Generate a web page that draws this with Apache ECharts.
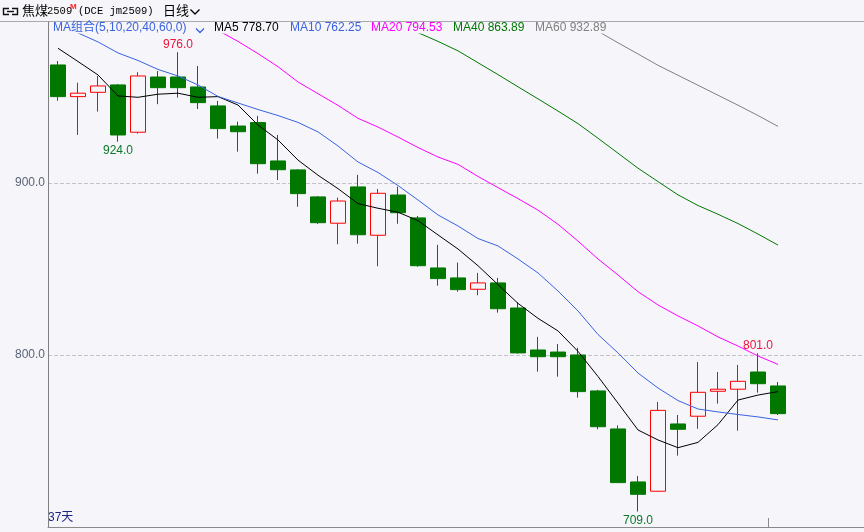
<!DOCTYPE html>
<html><head><meta charset="utf-8">
<script src="https://cdn.jsdelivr.net/npm/echarts@6/dist/echarts.min.js"></script>
<style>html,body{margin:0;padding:0;background:#f5f5fa}#c{width:864px;height:532px}</style>
</head><body><div id="c"></div>
<script>
// ---------- data ----------
const categories = ['1','2','3','4','5','6','7','8','9','10','11','12','13','14','15','16','17','18','19','20','21','22','23','24','25','26','27','28','29','30','31','32','33','34','35','36','37'];
const opens  = [968.6,950.2,952.7,957.0,929.5,961.6,961.6,955.8,944.8,933.1,935.1,912.8,907.6,891.9,876.6,897.7,869.6,893.0,879.7,850.6,844.8,838.2,841.9,827.3,802.9,801.7,800.0,779.1,757.0,726.2,720.8,759.9,764.4,778.9,780.1,790.1,782.0];
const closes = [950.2,952.2,956.4,927.9,962.2,955.4,955.4,946.7,931.6,929.8,911.2,907.7,893.8,876.9,889.5,869.9,894.0,882.7,851.9,844.4,838.0,841.9,826.9,801.2,799.0,799.0,778.7,758.3,725.8,719.0,767.8,756.8,778.3,780.1,784.7,783.3,765.9];
const lows   = [947.8,927.9,941.5,924.0,928.7,945.8,949.6,943.0,925.8,918.2,905.4,901.7,886.2,876.2,864.4,864.7,851.6,876.3,851.3,840.3,836.8,834.7,824.6,800.8,790.3,787.4,775.2,756.8,725.8,709.0,720.8,741.5,757.1,771.7,756.0,778.1,765.1];
const highs  = [970.9,958.3,962.2,957.5,964.4,965.1,976.0,968.0,947.7,935.6,939.0,927.9,908.0,892.4,891.5,904.7,896.5,897.8,880.8,864.0,853.7,847.7,844.8,830.6,810.5,806.4,804.2,779.7,759.1,729.7,772.7,765.1,795.9,790.1,794.2,801.0,784.3];
const ma5  = [978.3,970.6,962.8,950.6,949.8,951.6,952.2,949.8,950.2,945.3,933.7,925.0,913.3,904.5,896.7,888.0,885.3,883.0,878.1,869.8,861.6,851.9,840.9,830.0,821.3,814.0,802.1,787.5,772.0,756.4,750.6,746.1,749.2,759.5,773.8,776.7,778.70];
const ma10 = [null,987.2,982.0,975.6,971.2,966.0,962.2,957.0,950.3,946.5,942.7,939.2,935.2,929.7,921.5,912.2,906.1,898.5,890.1,881.4,875.0,867.7,863.4,855.8,847.7,837.2,825.6,811.9,801.2,789.5,780.8,773.5,768.6,766.9,765.4,764.0,762.25];
const ma20 = [null,null,null,null,null,null,null,null,988.7,982.3,975.2,967.6,958.7,951.9,945.1,937.6,932.5,926.7,920.6,915.1,910.8,903.8,897.3,890.9,884.2,876.0,866.2,855.8,846.5,836.8,829.1,822.7,816.9,810.5,805.2,799.4,794.53];
const ma40 = [null,null,null,null,null,null,null,null,null,null,null,null,null,null,null,null,null,null,987.4,982.3,976.8,969.9,963.0,955.9,948.9,941.8,934.5,926.0,917.3,908.6,900.8,893.1,886.9,881.8,876.4,870.3,863.89];
const ma60 = [null,null,null,null,null,null,null,null,null,null,null,null,null,null,null,null,null,null,null,null,null,null,null,null,null,null,null,988.2,981.5,975.0,968.4,962.6,956.8,951.0,945.2,939.2,932.89];
const yTickLabels = [800, 900];
const markIdx   = [6, 3, 29, 35];
const markValue = [976.0, 924.0, 709.0, 801.0];
const markKind  = ['high', 'low', 'low', 'high'];
const maNames   = ['MA5', 'MA10', 'MA20', 'MA40', 'MA60'];
const maLast    = ['778.70', '762.25', '794.53', '863.89', '932.89'];
const dayCount  = '37天';
const periodBreaks = [35.5];   // boundary between the 36th and 37th candle

// ---------- styles ----------
const BG = '#f5f5fa';
const UP = '#ff0000', DOWN = '#007800';
const maColors = ['#000000', '#3a62e0', '#ff00ff', '#007800', '#808080'];
const legendX = [214, 290, 371, 453, 535];
const FONT = 'Liberation Sans, Noto Sans CJK SC, sans-serif';
const YMIN = 700, YMAX = 986.6;
const SLOT = 20, PLOT_W = 816;

const candleData = opens.map((o, i) => [o, closes[i], lows[i], highs[i]]);
const maData = [ma5, ma10, ma20, ma40, ma60];

const markData = markIdx.map((idx, k) => ({
  coord: [categories[idx], markValue[k]],
  value: markValue[k],
  symbol: 'circle', symbolSize: 1,
  itemStyle: { color: 'rgba(0,0,0,0)' },
  label: {
    show: true,
    position: markKind[k] === 'high' ? 'top' : 'bottom',
    distance: markKind[k] === 'high' ? 1 : 3,
    formatter: markValue[k].toFixed(1),
    color: markKind[k] === 'high' ? '#f0143c' : '#0a7a28',
    fontFamily: FONT, fontSize: 12
  }
}));

const chart = echarts.init(document.getElementById('c'), null, { renderer: 'canvas' });

const graphics = [
  { type: 'line', shape: { x1: 0, y1: 21.5, x2: 864, y2: 21.5 }, style: { stroke: '#a8a8b0', lineWidth: 1 }, silent: true },
  { type: 'line', shape: { x1: 48.5, y1: 21.5, x2: 48.5, y2: 34 }, style: { stroke: '#808080', lineWidth: 1 }, silent: true },
  // link icon
  { type: 'polyline', shape: { points: [[9, 8.5], [3.5, 8.5], [3.5, 14.5], [9, 14.5]] }, style: { stroke: '#111', lineWidth: 1.4, fill: null } },
  { type: 'polyline', shape: { points: [[12, 8.5], [17.5, 8.5], [17.5, 14.5], [12, 14.5]] }, style: { stroke: '#111', lineWidth: 1.4, fill: null } },
  { type: 'line', shape: { x1: 7, y1: 11.5, x2: 14, y2: 11.5 }, style: { stroke: '#111', lineWidth: 1.4 } },
  { type: 'text', x: 22, y: 10.5, style: { text: '焦煤', font: '13px "Noto Sans CJK SC"', fill: '#000', textVerticalAlign: 'middle' } },
  { type: 'text', x: 47, y: 11.5, style: { text: '2509', font: '10.5px "Liberation Mono"', fill: '#000', textVerticalAlign: 'middle' } },
  { type: 'text', x: 70, y: 7, style: { text: 'M', font: 'bold 8px "Liberation Sans"', fill: '#ff2020', textVerticalAlign: 'middle' } },
  { type: 'text', x: 78, y: 11, style: { text: '(DCE jm2509)', font: '10.5px "Liberation Mono"', fill: '#000', textVerticalAlign: 'middle' } },
  { type: 'text', x: 163, y: 10.5, style: { text: '日线', font: '13px "Noto Sans CJK SC"', fill: '#000', textVerticalAlign: 'middle' } },
  { type: 'polyline', shape: { points: [[190.5, 9.5], [195, 14], [199.5, 9.5]] }, style: { stroke: '#000', lineWidth: 1.3, fill: null } },
  // MA legend
  { type: 'text', x: 53, y: 28, style: { text: 'MA组合(5,10,20,40,60,0)', font: '12px ' + FONT, fill: '#3a62e0', textVerticalAlign: 'middle' } },
  { type: 'polyline', shape: { points: [[196, 28.5], [200, 32.5], [204, 28.5]] }, style: { stroke: '#3a62e0', lineWidth: 1.3, fill: null } },
  { type: 'text', x: 48, y: 517.5, style: { text: dayCount, font: '12px ' + FONT, fill: '#1c2488', textVerticalAlign: 'middle' } }
];
maNames.forEach((n, i) => {
  graphics.push({ type: 'text', x: legendX[i], y: 28, style: { text: n + ' ' + maLast[i], font: '12px ' + FONT, fill: maColors[i], textVerticalAlign: 'middle' } });
});

const option = {
  backgroundColor: BG,
  animation: false,
  grid: [
    { left: 48, top: 34, width: categories.length * SLOT, bottom: 5 },
    { left: 48, top: 34, width: PLOT_W, bottom: 5 }
  ],
  xAxis: [
    { type: 'category', gridIndex: 0, data: categories, boundaryGap: true,
      axisLine: { show: false }, axisLabel: { show: false },
      axisTick: { show: false }, splitLine: { show: false } },
    { type: 'value', gridIndex: 1, min: -0.5, max: PLOT_W / SLOT - 0.5,
      axisLine: { show: true, onZero: false, lineStyle: { color: '#8a8a8a' } },
      axisTick: { show: true, inside: true, length: 9, customValues: periodBreaks,
        lineStyle: { color: '#8a8a8a' } },
      axisLabel: { show: false }, splitLine: { show: false } }
  ],
  yAxis: [
    { type: 'value', gridIndex: 0, min: YMIN, max: YMAX, show: false, splitLine: { show: false } },
    { type: 'value', gridIndex: 1, min: YMIN, max: YMAX, interval: 100,
      axisLine: { show: true, onZero: false, lineStyle: { color: '#808080' } },
      axisTick: { show: false },
      axisLabel: { margin: 3, color: '#5b6478', fontFamily: FONT, fontSize: 12,
        showMinLabel: false, showMaxLabel: false,
        formatter: (v) => yTickLabels.includes(v) ? v.toFixed(1) : '' },
      splitLine: { show: true, showMinLine: false, showMaxLine: false,
        lineStyle: { color: '#c4c4c8', type: [4, 2], width: 1 } } }
  ],
  series: [
    { type: 'candlestick', name: 'jm2509', xAxisIndex: 0, yAxisIndex: 0,
      data: candleData, barWidth: 16,
      itemStyle: { color: BG, color0: DOWN, borderColor: UP, borderColor0: DOWN, borderWidth: 1 },
      markPoint: { data: markData, animation: false }
    }
  ].concat(maNames.map((n, i) => ({
    type: 'line', name: n, xAxisIndex: 0, yAxisIndex: 0,
    data: maData[i], showSymbol: false, symbol: 'none', smooth: false,
    connectNulls: false, clip: true,
    lineStyle: { color: maColors[i], width: 1 }
  }))),
  graphic: graphics
};
chart.setOption(option);
</script>
</body></html>
